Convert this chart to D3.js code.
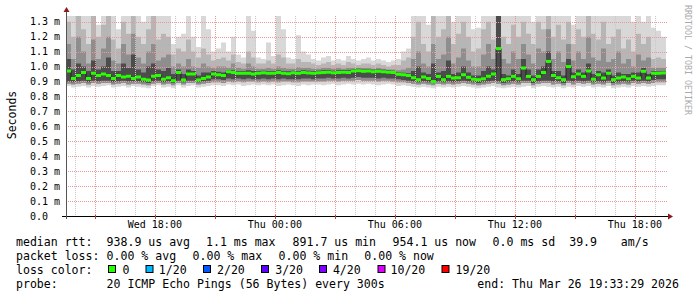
<!DOCTYPE html>
<html>
<head>
<meta charset="utf-8">
<script src="https://cdn.jsdelivr.net/npm/d3@7"></script>
<style>
    body { margin: 0; background: #fff; }
    svg text { font-family: "DejaVu Sans Mono", monospace; }
</style>
</head>
<body>
<svg id="graph" width="697" height="297"></svg>
<script>
// end of the graph window, 30 hours shown, one sample per 15 minutes
var endTime = new Date(2026, 2, 26, 19, 33, 29);
var spanHours = 30;
var stepMinutes = 15;

// median rtt in ms (green line)
var median = [
    0.970, 0.920, 0.940, 0.960, 0.920, 0.955, 0.940, 0.950, 0.940, 0.920,
    0.940, 0.930, 0.935, 0.920, 0.930, 0.915, 0.910, 0.935, 0.940, 0.915,
    0.925, 0.905, 0.960, 0.910, 0.950, 0.950, 0.910, 0.920, 0.930, 0.950,
    0.945, 0.940, 0.965, 0.960, 0.955, 0.955, 0.955, 0.950, 0.955, 0.958,
    0.955, 0.955, 0.960, 0.955, 0.952, 0.958, 0.955, 0.960, 0.957, 0.955,
    0.958, 0.960, 0.962, 0.958, 0.960, 0.962, 0.960, 0.970, 0.972, 0.968,
    0.970, 0.965, 0.968, 0.965, 0.962, 0.960, 0.948, 0.945, 0.940, 0.925,
    0.912, 0.930, 0.920, 0.900, 0.934, 0.912, 0.934, 0.923, 0.925, 0.945,
    0.928, 0.915, 0.912, 0.918, 0.935, 0.950, 1.120, 0.912, 0.918, 0.934,
    0.918, 0.990, 0.934, 0.912, 0.934, 0.960, 1.034, 0.940, 0.925, 0.912,
    1.000, 0.932, 0.950, 0.934, 0.970, 0.915, 0.945, 0.923, 0.955, 0.912,
    0.923, 0.930, 0.918, 0.934, 0.923, 0.968, 0.923, 0.955, 0.955, 0.957
];

// smoke: highest ping (ms)
var pingMax = [
    1.34, 1.34, 1.34, 1.34, 1.34, 1.34, 1.28, 1.34, 1.34, 1.34,
    1.25, 1.34, 1.34, 1.34, 1.34, 1.30, 1.34, 1.34, 1.34, 1.34,
    1.34, 1.15, 1.20, 1.22, 1.34, 1.20, 1.13, 1.34, 1.25, 1.10,
    1.12, 1.16, 1.10, 1.20, 1.08, 1.06, 1.34, 1.24, 1.06, 1.05,
    1.16, 1.07, 1.34, 1.25, 1.06, 1.05, 1.21, 1.10, 1.08, 1.05,
    1.04, 1.06, 1.07, 1.04, 1.05, 1.04, 1.07, 1.05, 1.04, 1.05,
    1.06, 1.04, 1.05, 1.04, 1.03, 1.04, 1.05, 1.10, 1.12, 1.34,
    1.34, 1.34, 1.28, 1.34, 1.34, 1.34, 1.34, 1.30, 1.34, 1.34,
    1.34, 1.25, 1.26, 1.34, 1.34, 1.34, 1.34, 1.34, 1.34, 1.34,
    1.34, 1.34, 1.34, 1.30, 1.34, 1.34, 1.34, 1.34, 1.34, 1.34,
    1.34, 1.28, 1.34, 1.34, 1.34, 1.34, 1.34, 1.34, 1.34, 1.34,
    1.34, 1.34, 1.34, 1.30, 1.34, 1.30, 1.34, 1.26, 1.24, 1.20
];

// smoke: upper ping levels, outer to inner (ms)
var pingHi2 = [
    1.30, 1.20, 1.34, 1.25, 1.15, 1.34, 1.20, 1.28, 1.34, 1.18,
    1.12, 1.30, 1.22, 1.34, 1.20, 1.15, 1.25, 1.34, 1.18, 1.22,
    1.20, 1.08, 1.12, 1.10, 1.18, 1.10, 1.06, 1.12, 1.08, 1.04,
    1.05, 1.06, 1.04, 1.08, 1.03, 1.02, 1.10, 1.06, 1.02, 1.02,
    1.04, 1.02, 1.08, 1.06, 1.02, 1.02, 1.05, 1.03, 1.03, 1.02,
    1.01, 1.02, 1.03, 1.01, 1.02, 1.01, 1.03, 1.02, 1.01, 1.02,
    1.02, 1.01, 1.02, 1.01, 1.00, 1.01, 1.01, 1.04, 1.06, 1.20,
    1.30, 1.15, 1.10, 1.34, 1.20, 1.25, 1.34, 1.15, 1.22, 1.30,
    1.20, 1.10, 1.12, 1.25, 1.30, 1.18, 1.34, 1.20, 1.15, 1.28,
    1.20, 1.30, 1.22, 1.15, 1.30, 1.25, 1.34, 1.20, 1.28, 1.18,
    1.30, 1.15, 1.25, 1.20, 1.34, 1.22, 1.18, 1.30, 1.15, 1.20,
    1.25, 1.12, 1.18, 1.10, 1.22, 1.15, 1.20, 1.05, 1.06, 1.05
];

var pingHi3 = [
    1.15, 1.05, 1.20, 1.10, 1.02, 1.18, 1.05, 1.12, 1.20, 1.04,
    1.02, 1.15, 1.08, 1.22, 1.06, 1.02, 1.10, 1.15, 1.04, 1.06,
    1.08, 1.00, 1.02, 1.00, 1.05, 1.00, 0.99, 1.02, 1.00, 0.99,
    1.00, 1.00, 0.99, 1.02, 0.99, 0.985, 1.02, 1.00, 0.985, 0.985,
    0.99, 0.985, 1.00, 0.99, 0.985, 0.985, 0.995, 0.99, 0.99, 0.985,
    0.985, 0.99, 0.99, 0.985, 0.99, 0.985, 0.99, 0.99, 0.99, 0.99,
    0.99, 0.985, 0.99, 0.985, 0.98, 0.98, 0.975, 0.98, 0.99, 1.05,
    1.10, 1.02, 1.00, 1.15, 1.05, 1.08, 1.20, 1.02, 1.06, 1.12,
    1.04, 1.00, 1.00, 1.08, 1.15, 1.05, 1.34, 1.05, 1.02, 1.10,
    1.05, 1.15, 1.08, 1.02, 1.12, 1.10, 1.25, 1.05, 1.10, 1.03,
    1.15, 1.04, 1.10, 1.05, 1.20, 1.06, 1.04, 1.12, 1.03, 1.05,
    1.10, 1.02, 1.05, 1.00, 1.08, 1.04, 1.06, 0.99, 0.99, 0.99
];

var pingHi4 = [
    1.05, 0.98, 1.02, 1.00, 0.97, 1.04, 0.98, 1.00, 1.06, 0.97,
    0.97, 1.02, 0.99, 1.08, 0.98, 0.96, 1.00, 1.02, 0.98, 0.97,
    0.99, 0.95, 0.98, 0.95, 0.98, 0.97, 0.94, 0.96, 0.96, 0.97,
    0.965, 0.96, 0.975, 0.975, 0.97, 0.97, 0.975, 0.97, 0.97, 0.972,
    0.97, 0.97, 0.975, 0.97, 0.968, 0.972, 0.97, 0.975, 0.972, 0.97,
    0.972, 0.975, 0.976, 0.972, 0.975, 0.976, 0.975, 0.982, 0.985, 0.98,
    0.982, 0.978, 0.98, 0.978, 0.975, 0.972, 0.96, 0.958, 0.955, 0.97,
    1.00, 0.96, 0.95, 1.02, 0.96, 0.97, 1.04, 0.95, 0.96, 1.00,
    0.96, 0.94, 0.94, 0.97, 1.00, 0.98, 1.34, 0.95, 0.94, 0.98,
    0.95, 1.05, 0.98, 0.94, 0.98, 1.00, 1.10, 0.97, 0.97, 0.94,
    1.05, 0.96, 0.98, 0.96, 1.02, 0.95, 0.97, 0.96, 0.98, 0.94,
    0.96, 0.95, 0.95, 0.96, 0.96, 0.99, 0.95, 0.97, 0.968, 0.97
];

// smoke: lower ping levels, outer to inner (ms)
var pingLo1 = [
    0.870, 0.860, 0.865, 0.870, 0.860, 0.870, 0.865, 0.870, 0.875, 0.860,
    0.865, 0.870, 0.860, 0.870, 0.865, 0.860, 0.855, 0.870, 0.875, 0.860,
    0.865, 0.855, 0.875, 0.860, 0.870, 0.875, 0.860, 0.865, 0.870, 0.875,
    0.875, 0.870, 0.880, 0.875, 0.880, 0.870, 0.875, 0.880, 0.875, 0.880,
    0.875, 0.880, 0.870, 0.875, 0.880, 0.875, 0.870, 0.880, 0.875, 0.880,
    0.880, 0.875, 0.880, 0.885, 0.875, 0.880, 0.885, 0.880, 0.885, 0.880,
    0.885, 0.880, 0.875, 0.880, 0.885, 0.880, 0.870, 0.875, 0.870, 0.865,
    0.860, 0.865, 0.860, 0.855, 0.865, 0.860, 0.865, 0.860, 0.865, 0.870,
    0.865, 0.860, 0.855, 0.860, 0.865, 0.870, 0.860, 0.855, 0.860, 0.865,
    0.860, 0.865, 0.870, 0.855, 0.865, 0.870, 0.865, 0.860, 0.865, 0.855,
    0.865, 0.860, 0.870, 0.865, 0.870, 0.860, 0.865, 0.860, 0.870, 0.855,
    0.860, 0.865, 0.860, 0.870, 0.865, 0.870, 0.865, 0.870, 0.875, 0.875
];

var pingLo2 = [
    0.885, 0.880, 0.885, 0.890, 0.880, 0.890, 0.885, 0.890, 0.890, 0.880,
    0.885, 0.890, 0.880, 0.885, 0.885, 0.880, 0.875, 0.885, 0.890, 0.880,
    0.885, 0.875, 0.890, 0.880, 0.890, 0.890, 0.880, 0.885, 0.890, 0.895,
    0.895, 0.890, 0.900, 0.895, 0.900, 0.895, 0.900, 0.900, 0.895, 0.900,
    0.895, 0.900, 0.895, 0.900, 0.900, 0.895, 0.895, 0.900, 0.900, 0.900,
    0.900, 0.900, 0.905, 0.905, 0.900, 0.905, 0.905, 0.905, 0.910, 0.905,
    0.905, 0.905, 0.900, 0.905, 0.905, 0.900, 0.895, 0.895, 0.890, 0.885,
    0.880, 0.885, 0.880, 0.875, 0.885, 0.880, 0.885, 0.880, 0.885, 0.890,
    0.885, 0.880, 0.875, 0.880, 0.885, 0.890, 0.885, 0.875, 0.880, 0.885,
    0.880, 0.890, 0.890, 0.875, 0.885, 0.890, 0.890, 0.880, 0.885, 0.875,
    0.890, 0.880, 0.890, 0.885, 0.890, 0.880, 0.885, 0.880, 0.890, 0.875,
    0.880, 0.885, 0.880, 0.890, 0.885, 0.890, 0.885, 0.890, 0.895, 0.895
];

var pingLo3 = [
    0.900, 0.895, 0.900, 0.905, 0.895, 0.905, 0.900, 0.905, 0.905, 0.895,
    0.900, 0.905, 0.900, 0.900, 0.900, 0.895, 0.890, 0.900, 0.905, 0.895,
    0.900, 0.890, 0.905, 0.895, 0.905, 0.905, 0.895, 0.900, 0.905, 0.915,
    0.915, 0.910, 0.920, 0.915, 0.920, 0.915, 0.920, 0.915, 0.915, 0.920,
    0.915, 0.920, 0.915, 0.920, 0.915, 0.915, 0.915, 0.920, 0.920, 0.915,
    0.920, 0.920, 0.925, 0.920, 0.920, 0.925, 0.920, 0.925, 0.930, 0.925,
    0.925, 0.925, 0.920, 0.925, 0.920, 0.920, 0.915, 0.910, 0.905, 0.900,
    0.895, 0.900, 0.895, 0.890, 0.900, 0.895, 0.900, 0.895, 0.900, 0.905,
    0.900, 0.895, 0.890, 0.895, 0.900, 0.905, 0.900, 0.890, 0.895, 0.900,
    0.895, 0.905, 0.905, 0.890, 0.900, 0.905, 0.905, 0.900, 0.900, 0.890,
    0.905, 0.900, 0.905, 0.900, 0.905, 0.895, 0.900, 0.895, 0.905, 0.890,
    0.895, 0.900, 0.895, 0.905, 0.900, 0.905, 0.900, 0.910, 0.915, 0.915
];

// y axis ticks (ms) and their labels
var yTicks = [0, 0.1, 0.2, 0.3, 0.4, 0.5, 0.6, 0.7, 0.8, 0.9, 1.0, 1.1, 1.2, 1.3];
var yTickLabels = ["0.0", "0.1 m", "0.2 m", "0.3 m", "0.4 m", "0.5 m", "0.6 m",
                   "0.7 m", "0.8 m", "0.9 m", "1.0 m", "1.1 m", "1.2 m", "1.3 m"];
var yMax = 1.338;

// legend
var rttItems = ["938.9 us avg", "1.1 ms max", "891.7 us min", "954.1 us now", "0.0 ms sd", "39.9", "am/s"];
var lossItems = ["0.00 % avg", "0.00 % max", "0.00 % min", "0.00 % now"];
var lossLabels = ["0", "1/20", "2/20", "3/20", "4/20", "10/20", "19/20"];
var lossColors = ["#26ff00", "#00b8ff", "#0059ff", "#5e00ff", "#7e00ff", "#dd00ff", "#ff0000"];
var probeText = "20 ICMP Echo Pings (56 Bytes) every 300s";
var endText = "end: Thu Mar 26 19:33:29 2026";


function drawGraph()
{
    var svg = d3.select("#graph");

    var left = 66, right = 666, top = 16, bottom = 216;

    var startTime = d3.timeHour.offset(endTime, -spanHours);
    var n = median.length;
    var times = d3.range(n + 1).map(function (i) {
        return d3.timeMinute.offset(startTime, i * stepMinutes);
    });

    var xScale = d3.scaleTime()
        .domain([startTime, endTime])
        .range([left, right]);

    var yScale = d3.scaleLinear()
        .domain([0, yMax])
        .range([bottom, top]);

    svg.append("defs").append("clipPath")
        .attr("id", "plotClip")
      .append("rect")
        .attr("x", left).attr("y", top)
        .attr("width", right - left).attr("height", bottom - top);

    // ---- smoke: bands between sorted pings, darker towards the middle
    var bands = [
        { lo: pingLo1, hi: pingMax, color: "#d8d8d8" },
        { lo: pingLo2, hi: pingHi2, color: "#b6b6b6" },
        { lo: pingLo2, hi: pingHi3, color: "#8e8e8e" },
        { lo: pingLo3, hi: pingHi4, color: "#4c4c4c" }
    ];

    var smoke = svg.append("g").attr("clip-path", "url(#plotClip)");
    var idx = d3.range(n + 1);

    bands.forEach(function (b) {
        var area = d3.area()
            .curve(d3.curveStepAfter)
            .x(function (i) { return xScale(times[i]); })
            .y0(function (i) { return yScale(b.lo[Math.min(i, n - 1)]); })
            .y1(function (i) { return yScale(b.hi[Math.min(i, n - 1)]); });
        smoke.append("path")
            .datum(idx)
            .attr("d", area)
            .attr("fill", b.color);
    });

    // ---- grid
    var grid = svg.append("g");
    var minorTimes = xScale.ticks(d3.timeHour.every(1));
    var majorTimes = xScale.ticks(d3.timeHour.every(3));

    grid.selectAll("line.minor").data(minorTimes).enter()
        .append("line")
        .attr("x1", function (d) { return Math.round(xScale(d)) + 0.5; })
        .attr("x2", function (d) { return Math.round(xScale(d)) + 0.5; })
        .attr("y1", top).attr("y2", bottom)
        .attr("stroke", "#c8c8c8")
        .attr("stroke-dasharray", "1,1");

    grid.selectAll("line.major").data(majorTimes).enter()
        .append("line")
        .attr("x1", function (d) { return Math.round(xScale(d)) + 0.5; })
        .attr("x2", function (d) { return Math.round(xScale(d)) + 0.5; })
        .attr("y1", top).attr("y2", bottom)
        .attr("stroke", "#e89a9a")
        .attr("stroke-dasharray", "1,1");

    grid.selectAll("line.h").data(yTicks.slice(1)).enter()
        .append("line")
        .attr("x1", left).attr("x2", right + 2)
        .attr("y1", function (d) { return Math.round(yScale(d)) + 0.5; })
        .attr("y2", function (d) { return Math.round(yScale(d)) + 0.5; })
        .attr("stroke", "#e89a9a")
        .attr("stroke-dasharray", "1,1");

    // ---- median line: dark steps, green segments coloured by loss (all 0 here)
    var medLine = d3.line()
        .curve(d3.curveStepAfter)
        .x(function (i) { return xScale(times[i]); })
        .y(function (i) { return yScale(median[Math.min(i, n - 1)]); });

    svg.append("path")
        .datum(idx)
        .attr("d", medLine)
        .attr("fill", "none")
        .attr("stroke", "#202020")
        .attr("stroke-width", 1);

    svg.append("g").selectAll("rect")
        .data(median)
        .enter()
        .append("rect")
        .attr("x", function (d, i) { return xScale(times[i]); })
        .attr("width", function (d, i) { return xScale(times[i + 1]) - xScale(times[i]); })
        .attr("y", function (d) { return yScale(d) - 1.5; })
        .attr("height", 3)
        .attr("fill", lossColors[0]);

    // ---- axes
    svg.append("line")
        .attr("x1", left - 4).attr("x2", right + 3)
        .attr("y1", bottom + 0.5).attr("y2", bottom + 0.5)
        .attr("stroke", "#000");
    svg.append("line")
        .attr("x1", left + 0.5).attr("x2", left + 0.5)
        .attr("y1", bottom + 3).attr("y2", top - 4)
        .attr("stroke", "#555");

    majorTimes.forEach(function (d) {
        var xx = Math.round(xScale(d)) + 0.5;
        svg.append("line")
            .attr("x1", xx).attr("x2", xx)
            .attr("y1", bottom - 1).attr("y2", bottom + 3)
            .attr("stroke", "#c04040");
    });

    // arrows
    svg.append("path")
        .attr("d", "M" + (left - 2.5) + "," + (top - 4) + " L" + (left + 3.5) + "," + (top - 4) +
                   " L" + (left + 0.5) + "," + (top - 9) + " Z")
        .attr("fill", "#8b1a1a");
    svg.append("path")
        .attr("d", "M" + (right + 2) + "," + (bottom - 2.5) + " L" + (right + 2) + "," + (bottom + 3.5) +
                   " L" + (right + 7) + "," + (bottom + 0.5) + " Z")
        .attr("fill", "#8b1a1a");

    // y labels
    svg.append("g").selectAll("text")
        .data(yTicks)
        .enter()
        .append("text")
        .attr("x", 30)
        .attr("y", function (d) { return yScale(d) + 3.6; })
        .attr("font-size", "10px")
        .attr("fill", "#000")
        .text(function (d, i) { return yTickLabels[i]; });

    // x labels
    var fmt = d3.timeFormat("%a %H:%M");
    svg.append("g").selectAll("text")
        .data(xScale.ticks(d3.timeHour.every(6)))
        .enter()
        .append("text")
        .attr("x", function (d) { return xScale(d); })
        .attr("y", 228)
        .attr("text-anchor", "middle")
        .attr("font-size", "10px")
        .attr("fill", "#000")
        .text(fmt);

    // vertical title and watermark
    svg.append("text")
        .attr("transform", "translate(15.5," + ((top + bottom) / 2 - 1) + ") rotate(-90)")
        .attr("text-anchor", "middle")
        .attr("font-size", "11.5px")
        .attr("fill", "#000")
        .text("Seconds");

    svg.append("text")
        .attr("transform", "translate(685,5) rotate(90)")
        .attr("font-size", "8.3px")
        .attr("fill", "#aaaaaa")
        .text("RRDTOOL / TOBI OETIKER");

    // ---- legend
    var legend = svg.append("g")
        .attr("font-size", "11.55px")
        .attr("fill", "#000")
        .style("white-space", "pre");

    var rttX = [106.6, 206, 292.6, 392.6, 492.6, 569.2, 620.8];
    var lossX = [106.6, 192.6, 278.6, 364.3];

    legend.append("text").attr("x", 16).attr("y", 246).text("median rtt:");
    legend.selectAll("text.rtt").data(rttItems).enter()
        .append("text")
        .attr("x", function (d, i) { return rttX[i]; })
        .attr("y", 246)
        .text(function (d) { return d; });

    legend.append("text").attr("x", 16).attr("y", 260).text("packet loss:");
    legend.selectAll("text.loss").data(lossItems).enter()
        .append("text")
        .attr("x", function (d, i) { return lossX[i]; })
        .attr("y", 260)
        .text(function (d) { return d; });

    var boxX = [108, 145.5, 203, 261, 319, 377.5, 441.5];
    var boxTextX = [122.6, 158.8, 217, 275.2, 332.9, 390.5, 455.5];

    legend.append("text").attr("x", 16).attr("y", 274).text("loss color:");
    lossLabels.forEach(function (lab, i) {
        legend.append("rect")
            .attr("x", boxX[i] + 0.5).attr("y", 265.5)
            .attr("width", 7).attr("height", 7)
            .attr("fill", lossColors[i])
            .attr("stroke", "#000");
        legend.append("text")
            .attr("x", boxTextX[i]).attr("y", 274)
            .text(lab);
    });

    legend.append("text").attr("x", 16).attr("y", 288).text("probe:");
    legend.append("text").attr("x", 106.6).attr("y", 288).text(probeText);
    legend.append("text").attr("x", 477.3).attr("y", 288).text(endText);
}

drawGraph();
</script>
</body>
</html>
